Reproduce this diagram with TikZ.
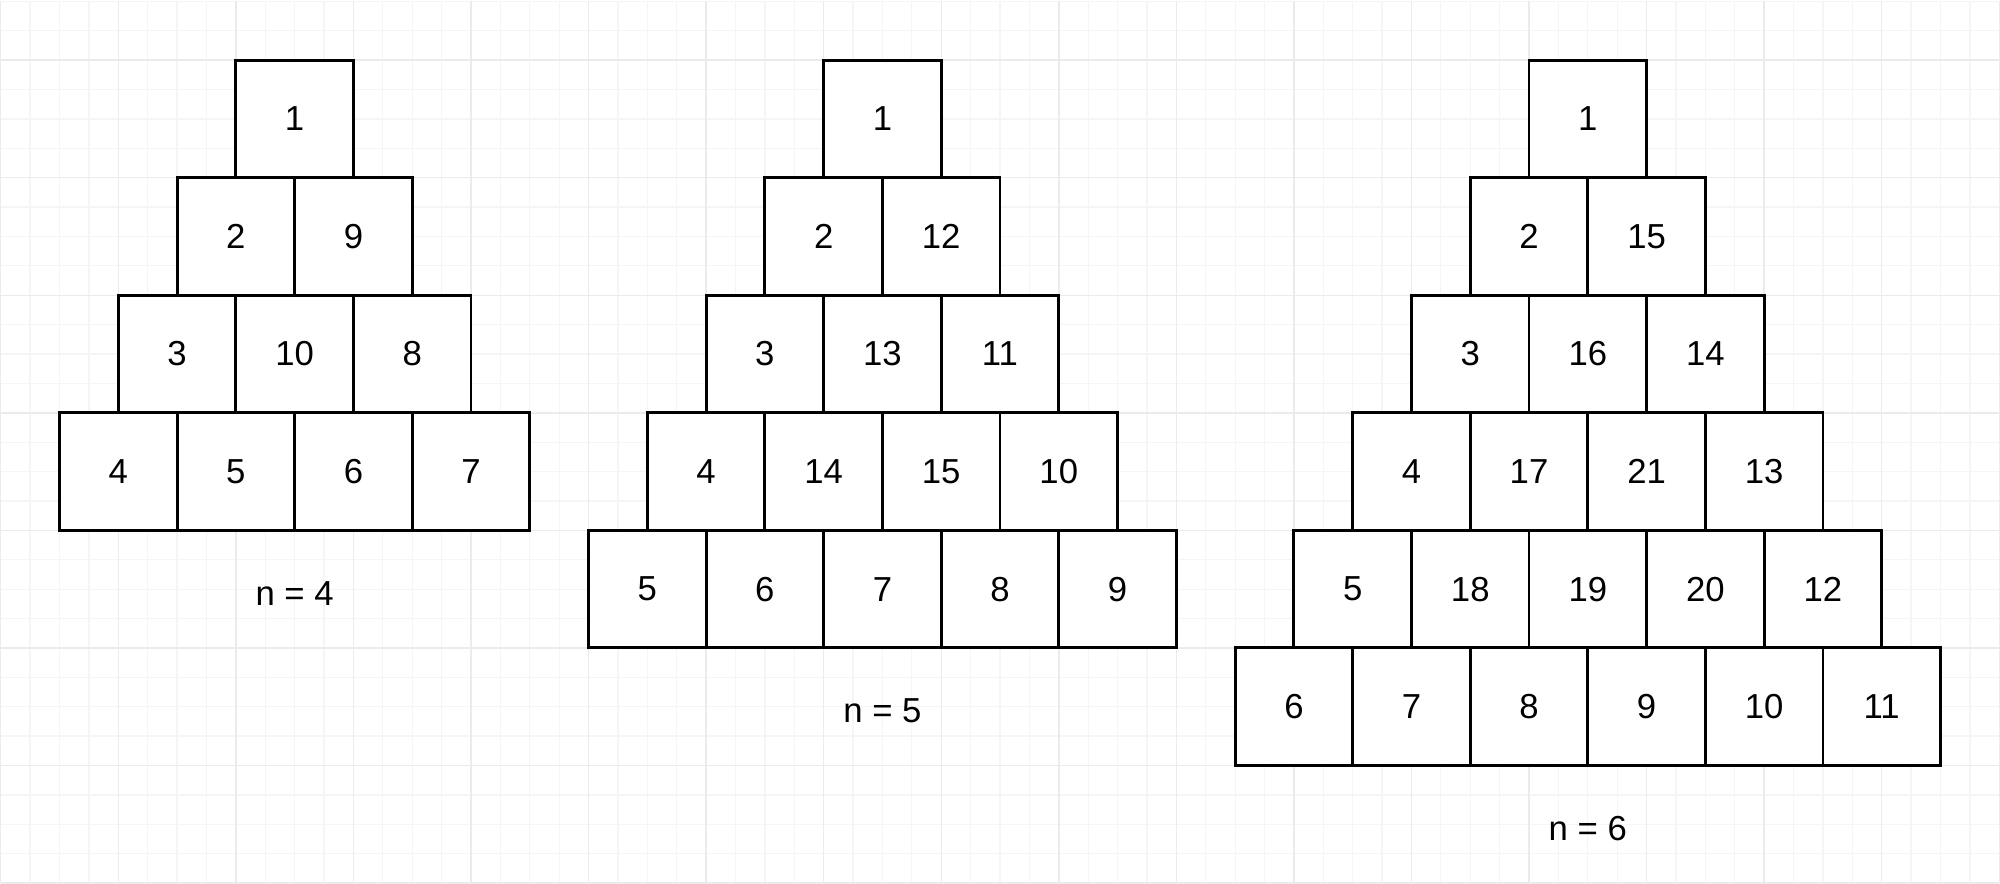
\documentclass[tikz,border=0pt]{standalone}
\usepackage{fontspec}
\setmainfont{Liberation Sans}
\usetikzlibrary{positioning}
\definecolor{minorgrid}{HTML}{F5F5F5}
\definecolor{majorgrid}{HTML}{EBEBEB}
\tikzset{
        box/.style={draw, fill=white, line width=0.7pt, minimum size=1cm, inner sep=0pt, outer sep=0pt, font=\fontsize{8.4}{10}\selectfont}, % one cell of a pyramid
        caption/.style={font=\fontsize{8.4}{10}\selectfont}, % the n = ... text under a pyramid
    }

\begin{document}
\begin{tikzpicture}
    % paper with the grid
    \fill[white] (0,0) rectangle (17,7.5055);
    \draw[minorgrid, line width=0.3pt, step=0.25] (0,0) grid (17,7.5055);
    \draw[majorgrid, line width=0.35pt, step=1] (0,0) grid (17,7.5055);
    % n = 4
    \node[box] (a1) at (2.5,6.5) {1};
    \node[box, below=0pt of a1.south west] (a2) {2};
    \node[box, right=0pt of a2] (a9) {9};
    \node[box, below=0pt of a2.south west] (a3) {3};
    \node[box, right=0pt of a3] (a10) {10};
    \node[box, right=0pt of a10] (a8) {8};
    \node[box, below=0pt of a3.south west] (a4) {4};
    \node[box, right=0pt of a4] (a5) {5};
    \node[box, right=0pt of a5] (a6) {6};
    \node[box, right=0pt of a6] (a7) {7};
    \node[caption] (n4) at (2.5,2.46) {n = 4};
    % n = 5
    \node[box] (b1) at (7.5,6.5) {1};
    \node[box, below=0pt of b1.south west] (b2) {2};
    \node[box, right=0pt of b2] (b12) {12};
    \node[box, below=0pt of b2.south west] (b3) {3};
    \node[box, right=0pt of b3] (b13) {13};
    \node[box, right=0pt of b13] (b11) {11};
    \node[box, below=0pt of b3.south west] (b4) {4};
    \node[box, right=0pt of b4] (b14) {14};
    \node[box, right=0pt of b14] (b15) {15};
    \node[box, right=0pt of b15] (b10) {10};
    \node[box, below=0pt of b4.south west] (b5) {5};
    \node[box, right=0pt of b5] (b6) {6};
    \node[box, right=0pt of b6] (b7) {7};
    \node[box, right=0pt of b7] (b8) {8};
    \node[box, right=0pt of b8] (b9) {9};
    \node[caption] (n5) at (7.5,1.47) {n = 5};
    % n = 6
    \node[box] (c1) at (13.5,6.5) {1};
    \node[box, below=0pt of c1.south west] (c2) {2};
    \node[box, right=0pt of c2] (c15) {15};
    \node[box, below=0pt of c2.south west] (c3) {3};
    \node[box, right=0pt of c3] (c16) {16};
    \node[box, right=0pt of c16] (c14) {14};
    \node[box, below=0pt of c3.south west] (c4) {4};
    \node[box, right=0pt of c4] (c17) {17};
    \node[box, right=0pt of c17] (c21) {21};
    \node[box, right=0pt of c21] (c13) {13};
    \node[box, below=0pt of c4.south west] (c5) {5};
    \node[box, right=0pt of c5] (c18) {18};
    \node[box, right=0pt of c18] (c19) {19};
    \node[box, right=0pt of c19] (c20) {20};
    \node[box, right=0pt of c20] (c12) {12};
    \node[box, below=0pt of c5.south west] (c6) {6};
    \node[box, right=0pt of c6] (c7) {7};
    \node[box, right=0pt of c7] (c8) {8};
    \node[box, right=0pt of c8] (c9) {9};
    \node[box, right=0pt of c9] (c10) {10};
    \node[box, right=0pt of c10] (c11) {11};
    \node[caption] (n6) at (13.5,0.46) {n = 6};
    \useasboundingbox (0,0) rectangle (17,7.5055);
\end{tikzpicture}
\end{document}
